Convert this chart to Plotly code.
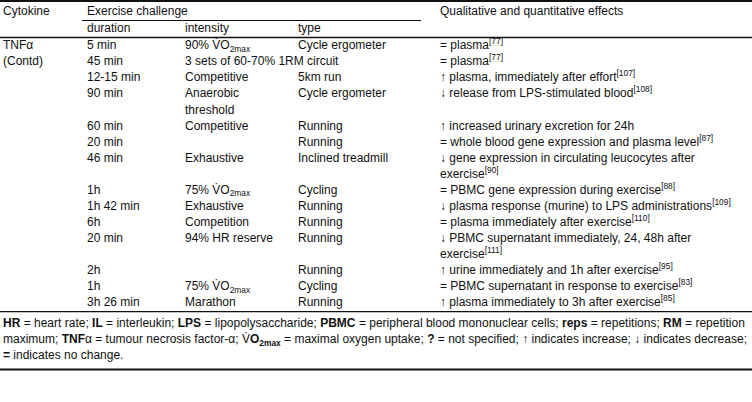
import plotly.graph_objects as go

W, H = 752, 402

# ---------------- data ----------------
header_top = ["Cytokine", "Exercise challenge", "Qualitative and quantitative effects"]
header_sub = ["duration", "intensity", "type"]
cytokine_labels = ["TNFα", "(Contd)"]

durations = ["5 min", "45 min", "12-15 min", "90 min", "60 min", "20 min", "46 min",
             "1h", "1h 42 min", "6h", "20 min", "2h", "1h", "3h 26 min"]

VO2 = "V\u0307O<sub>2max</sub>"
intensities = ["90% " + VO2, "3 sets of 60-70% 1RM circuit", "Competitive",
               "Anaerobic<br>threshold", "Competitive", "", "Exhaustive",
               "75% " + VO2, "Exhaustive", "Competition", "94% HR reserve", "",
               "75% " + VO2, "Marathon"]

types = ["Cycle ergometer", "", "5km run", "Cycle ergometer", "Running", "Running",
         "Inclined treadmill", "Cycling", "Running", "Running", "Running", "Running",
         "Cycling", "Running"]

effects = ["= plasma<sup>[77]</sup>",
           "= plasma<sup>[77]</sup>",
           "↑ plasma, immediately after effort<sup>[107]</sup>",
           "↓ release from LPS-stimulated blood<sup>[108]</sup>",
           "↑ increased urinary excretion for 24h",
           "= whole blood gene expression and plasma level<sup>[87]</sup>",
           "↓ gene expression in circulating leucocytes after<br>exercise<sup>[90]</sup>",
           "= PBMC gene expression during exercise<sup>[88]</sup>",
           "↓ plasma response (murine) to LPS administrations<sup>[109]</sup>",
           "= plasma immediately after exercise<sup>[110]</sup>",
           "↓ PBMC supernatant immediately, 24, 48h after<br>exercise<sup>[111]</sup>",
           "↑ urine immediately and 1h after exercise<sup>[95]</sup>",
           "= PBMC supernatant in response to exercise<sup>[83]</sup>",
           "↑ plasma immediately to 3h after exercise<sup>[85]</sup>"]

footnotes = [
    "<b>HR</b> = heart rate; <b>IL</b> = interleukin; <b>LPS</b> = lipopolysaccharide; "
    "<b>PBMC</b> = peripheral blood mononuclear cells; <b>reps</b> = repetitions; <b>RM</b> = repetition",
    "maximum; <b>TNF</b>α = tumour necrosis factor-α; V\u0307<b>O<sub>2max</sub></b> = maximal oxygen uptake; "
    "<b>?</b> = not specified; ↑ indicates increase; ↓ indicates decrease;",
    "<b>=</b> indicates no change.",
]

# ---------------- layout constants ----------------
FONT = "Liberation Sans, Arial, sans-serif"
FS = 12
COLOR = "#111111"
X_CYT, X_DUR, X_INT, X_TYPE, X_EFF = 3, 87, 185, 298, 440
Y_H1, Y_H2 = 12, 29
ROW0, PITCH = 46.3, 16.05
FOOT0, FOOT_PITCH = 324, 16

cols = {"dur": durations, "int": intensities, "type": types, "eff": effects}
col_x = {"dur": X_DUR, "int": X_INT, "type": X_TYPE, "eff": X_EFF}

pts = {k: ([], [], []) for k in list(cols) + ["cyt", "head", "foot"]}

line = 0
for i in range(len(durations)):
    nlines = max(len(cols[k][i].split("<br>")) for k in cols)
    for k in cols:
        for j, part in enumerate(cols[k][i].split("<br>")):
            if part:
                pts[k][0].append(col_x[k])
                pts[k][1].append(ROW0 + PITCH * (line + j))
                pts[k][2].append(part)
    line += nlines
rule_y = ROW0 + PITCH * (line - 1) + 8.5

for j, c in enumerate(cytokine_labels):
    pts["cyt"][0].append(X_CYT)
    pts["cyt"][1].append(ROW0 + PITCH * j)
    pts["cyt"][2].append(c)

for x, t in zip([X_CYT, X_DUR, X_EFF], header_top):
    pts["head"][0].append(x); pts["head"][1].append(Y_H1); pts["head"][2].append(t)
for x, t in zip([X_DUR, X_INT, X_TYPE], header_sub):
    pts["head"][0].append(x); pts["head"][1].append(Y_H2); pts["head"][2].append(t)

for j, t in enumerate(footnotes):
    pts["foot"][0].append(X_CYT)
    pts["foot"][1].append(FOOT0 + FOOT_PITCH * j)
    pts["foot"][2].append(t)

fig = go.Figure()
for k, (xs, ys, ts) in pts.items():
    fig.add_trace(go.Scatter(
        x=xs, y=ys, text=ts, mode="text", textposition="middle right",
        textfont=dict(family=FONT, size=FS, color=COLOR),
        hoverinfo="skip", showlegend=False, cliponaxis=False))

bottom_y = FOOT0 + FOOT_PITCH * (len(footnotes) - 1) + 13.5
shapes = [
    dict(type="line", x0=0, x1=W, y0=1, y1=1, line=dict(color="#111", width=2)),
    dict(type="line", x0=82, x1=421, y0=20.5, y1=20.5, line=dict(color="#111", width=1)),
    dict(type="line", x0=0, x1=W, y0=37.5, y1=37.5, line=dict(color="#111", width=1.6)),
    dict(type="line", x0=0, x1=W, y0=rule_y, y1=rule_y, line=dict(color="#111", width=1.1)),
    dict(type="line", x0=0, x1=W, y0=bottom_y, y1=bottom_y, line=dict(color="#111", width=2)),
]

fig.update_layout(
    width=W, height=H, margin=dict(l=0, r=0, t=0, b=0),
    paper_bgcolor="white", plot_bgcolor="white",
    xaxis=dict(range=[0, W], visible=False, fixedrange=True),
    yaxis=dict(range=[H, 0], visible=False, fixedrange=True),
    shapes=shapes,
)

fig.write_html("out.html", config={"displayModeBar": False},
               post_script="document.body.style.margin='0px';")
